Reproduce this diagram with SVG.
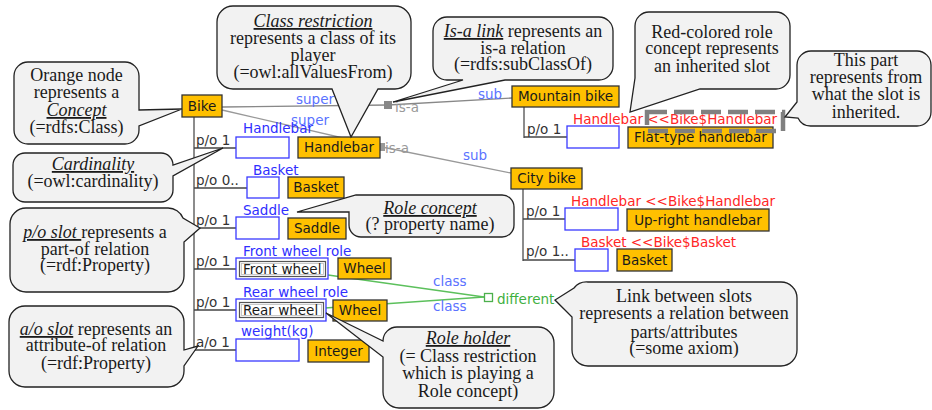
<svg xmlns="http://www.w3.org/2000/svg" width="932" height="410" viewBox="0 0 932 410">
<style>
.nd{fill:#FFC000;stroke:#333;stroke-width:1.3}
.nt{font-family:"DejaVu Sans",sans-serif;font-size:13.5px;fill:#1a1a1a;text-anchor:middle}
.slot{fill:#fff;stroke:#3a3aff;stroke-width:1.3}
.lb{font-family:"DejaVu Sans",sans-serif;font-size:13.5px}
.role{fill:#2f2fff}
.inh{fill:#ff2626}
.ss{fill:#5a72ff}
.card{fill:#333}
.isa{fill:#999}
.pl{stroke:#444;stroke-width:1.5;fill:none}
.vl{stroke:#666;stroke-width:1.5;fill:none}
.il{stroke:#999;stroke-width:1.3;fill:none}
.gl{stroke:#5cc05c;stroke-width:1.5;fill:none}
.co{fill:#f2f2f2;stroke:#222;stroke-width:1.3}
.ct{font-family:"Liberation Serif",serif;font-size:18px;fill:#1a1a1a;text-anchor:middle}
.em{font-style:italic;text-decoration:underline}
</style>

<g id="connectors">
  <line class="vl" x1="194" y1="117" x2="194" y2="351"/>
  <line class="pl" x1="194" y1="148" x2="236" y2="148"/>
  <line class="pl" x1="194" y1="188" x2="247" y2="188"/>
  <line class="pl" x1="194" y1="228" x2="236" y2="228"/>
  <line class="pl" x1="194" y1="269" x2="236" y2="269"/>
  <line class="pl" x1="194" y1="310" x2="236" y2="310"/>
  <line class="pl" x1="194" y1="350" x2="236" y2="350"/>
  <text class="lb card" x="196" y="145">p/o 1</text>
  <text class="lb card" x="196" y="185">p/o 0..</text>
  <text class="lb card" x="196" y="225">p/o 1</text>
  <text class="lb card" x="196" y="266">p/o 1</text>
  <text class="lb card" x="196" y="307">p/o 1</text>
  <text class="lb card" x="196" y="347">a/o 1</text>

  <line class="vl" x1="524" y1="107" x2="524" y2="138"/>
  <line class="pl" x1="524" y1="137" x2="567" y2="137"/>
  <text class="lb card" x="527" y="134">p/o 1</text>
  <line class="vl" x1="523" y1="189" x2="523" y2="261"/>
  <line class="pl" x1="523" y1="219" x2="565" y2="219"/>
  <line class="pl" x1="523" y1="260" x2="575" y2="260"/>
  <text class="lb card" x="526" y="216">p/o 1</text>
  <text class="lb card" x="526" y="256">p/o 1..</text>

  <line x1="222" y1="107" x2="388" y2="105" stroke="#888" stroke-width="1.4"/>
  <line x1="388" y1="105" x2="512" y2="98" stroke="#888" stroke-width="1.4"/>
  <rect x="384" y="101" width="8" height="8" fill="#888"/>
  <text class="lb ss" x="296" y="104">super</text>
  <text class="lb isa" x="395" y="112">is-a</text>
  <text class="lb ss" x="478" y="99">sub</text>

  <line class="il" x1="222" y1="110" x2="382" y2="147"/>
  <line class="il" x1="382" y1="147" x2="511" y2="173"/>
  <rect x="379" y="143" width="6" height="8" fill="#999"/>
  <text class="lb ss" x="291" y="125">super</text>
  <text class="lb isa" x="385" y="153">is-a</text>
  <text class="lb ss" x="463" y="160">sub</text>

  <line class="gl" x1="328" y1="275" x2="484" y2="297"/>
  <line class="gl" x1="325" y1="308" x2="484" y2="297"/>
  <rect x="484.5" y="293.5" width="8" height="8" fill="none" stroke="#4cb04c" stroke-width="1.3"/>
  <text class="lb ss" x="433" y="286">class</text>
  <text class="lb ss" x="433" y="311">class</text>
  <text class="lb" x="497" y="304" fill="#3fb03f">different</text>
</g>

<g id="bike"><rect class="nd" x="182" y="95" width="40" height="22"/><text class="nt" x="202" y="111">Bike</text></g>

<g id="slot-handlebar"><rect class="slot" x="236" y="137" width="53" height="21"/><text class="lb role" x="243" y="133">Handlebar</text></g>
<g id="handlebar"><rect class="nd" x="298" y="137" width="82" height="21"/><text class="nt" x="339" y="152">Handlebar</text></g>

<g id="slot-basket"><rect class="slot" x="247" y="177" width="32" height="21"/><text class="lb role" x="253" y="175">Basket</text></g>
<g id="basket"><rect class="nd" x="288" y="177" width="56" height="21"/><text class="nt" x="316" y="192">Basket</text></g>

<g id="slot-saddle"><rect class="slot" x="236" y="217" width="43" height="22"/><text class="lb role" x="243" y="215">Saddle</text></g>
<g id="saddle"><rect class="nd" x="288" y="218" width="58" height="21"/><text class="nt" x="317" y="233">Saddle</text></g>

<g id="slot-front"><rect class="slot" x="236" y="258" width="92" height="21"/><rect x="239.5" y="261.5" width="86" height="15" fill="#fff" stroke="#555" stroke-width="1.2"/><rect x="241.5" y="263.5" width="82" height="11" fill="none" stroke="#bbb" stroke-width="0.8"/><text class="lb" x="243" y="274" fill="#1a1a1a">Front wheel</text><text class="lb role" x="243" y="256">Front wheel role</text></g>
<g id="wheel1"><rect class="nd" x="338" y="258" width="53" height="21"/><text class="nt" x="364.5" y="273">Wheel</text></g>

<g id="slot-rear"><rect class="slot" x="236" y="299" width="90" height="22"/><rect x="239.5" y="302.5" width="84" height="15" fill="#fff" stroke="#555" stroke-width="1.2"/><rect x="241.5" y="304.5" width="80" height="11" fill="none" stroke="#bbb" stroke-width="0.8"/><text class="lb" x="243" y="315" fill="#1a1a1a">Rear wheel</text><text class="lb role" x="243" y="297">Rear wheel role</text></g>
<g id="wheel2"><rect class="nd" x="333" y="300" width="54" height="21"/><text class="nt" x="360" y="315">Wheel</text></g>

<g id="slot-weight"><rect class="slot" x="236" y="339" width="63" height="22"/><text class="lb role" x="241" y="336">weight(kg)</text></g>
<g id="integer"><rect class="nd" x="308" y="340" width="61" height="22"/><text class="nt" x="338.5" y="356">Integer</text></g>

<g id="mountain-bike"><rect class="nd" x="512" y="86" width="107" height="21"/><text class="nt" x="565.5" y="101">Mountain bike</text></g>
<g id="slot-mb-handlebar"><rect class="slot" x="567" y="126" width="52" height="22"/><text class="lb inh" x="573" y="124">Handlebar &lt;&lt;Bike$Handlebar</text></g>
<g id="flat-handlebar"><rect class="nd" x="628" y="127" width="145" height="21"/><text class="nt" x="700.5" y="142">Flat-type handlebar</text></g>

<g id="city-bike"><rect class="nd" x="511" y="168" width="71" height="21"/><text class="nt" x="546.5" y="183">City bike</text></g>
<g id="slot-cb-handlebar"><rect class="slot" x="565" y="208" width="53" height="22"/><text class="lb inh" x="571" y="206">Handlebar &lt;&lt;Bike$Handlebar</text></g>
<g id="upright-handlebar"><rect class="nd" x="627" y="209" width="142" height="22"/><text class="nt" x="698" y="225">Up-right handlebar</text></g>
<g id="slot-cb-basket"><rect class="slot" x="575" y="249" width="33" height="22"/><text class="lb inh" x="581" y="247">Basket &lt;&lt;Bike$Basket</text></g>
<g id="basket2"><rect class="nd" x="617" y="249" width="55" height="22"/><text class="nt" x="644.5" y="265">Basket</text></g>

<g id="inherited-mark"><rect x="647" y="112" width="136" height="19" fill="none" stroke="#808080" stroke-width="4.5" stroke-dasharray="20 7"/></g>

<g id="callout-concept">
  <path class="co" d="M28,62 H125 A14,14 0 0 1 139,76 V110 L182,109 L139,126 V130 A14,14 0 0 1 125,144 H28 A14,14 0 0 1 14,130 V76 A14,14 0 0 1 28,62 Z"/>
  <text class="ct" x="76.5" y="81">Orange node</text>
  <text class="ct" x="76.5" y="98">represents a</text>
  <text class="ct em" x="76.5" y="116">Concept</text>
  <text class="ct" x="76.5" y="133">(=rdfs:Class)</text>
</g>
<g id="callout-cardinality">
  <path class="co" d="M25,153 H161 A12,12 0 0 1 173,165 L223,148 L173,176 V190 A12,12 0 0 1 161,202 H25 A12,12 0 0 1 13,190 V165 A12,12 0 0 1 25,153 Z"/>
  <text class="ct em" x="93" y="170">Cardinality</text>
  <text class="ct" x="93" y="187">(=owl:cardinality)</text>
</g>
<g id="callout-po">
  <path class="co" d="M26,208 H168 A16,16 0 0 1 183,218 L200,228 L184,242 V276 A16,16 0 0 1 168,292 H26 A16,16 0 0 1 10,276 V224 A16,16 0 0 1 26,208 Z"/>
  <text class="ct" x="95" y="238"><tspan class="em">p/o slot </tspan> represents a</text>
  <text class="ct" x="95" y="254.5">part-of relation</text>
  <text class="ct" x="95" y="271">(=rdf:Property)</text>
</g>
<g id="callout-ao">
  <path class="co" d="M25,306 H168 A16,16 0 0 1 184,322 V350 L198,346 L184,366 V371 A16,16 0 0 1 168,387 H25 A16,16 0 0 1 9,371 V322 A16,16 0 0 1 25,306 Z"/>
  <text class="ct" x="96" y="335"><tspan class="em">a/o slot</tspan> represents an</text>
  <text class="ct" x="96" y="351">attribute-of relation</text>
  <text class="ct" x="96" y="368.5">(=rdf:Property)</text>
</g>
<g id="callout-class-restriction">
  <path class="co" d="M233,6 H395 A16,16 0 0 1 411,22 V73 A16,16 0 0 1 395,89 H378 L351,137 L332,89 H233 A16,16 0 0 1 217,73 V22 A16,16 0 0 1 233,6 Z"/>
  <text class="ct em" x="313" y="27">Class restriction</text>
  <text class="ct" x="313" y="44">represents a class of its</text>
  <text class="ct" x="313" y="61">player</text>
  <text class="ct" x="313" y="78">(=owl:allValuesFrom)</text>
</g>
<g id="callout-isa">
  <path class="co" d="M447,17 H599 A14,14 0 0 1 613,31 V66 A14,14 0 0 1 599,80 H505 L393,102 L463,80 H447 A14,14 0 0 1 433,66 V31 A14,14 0 0 1 447,17 Z"/>
  <text class="ct" x="523" y="37"><tspan class="em">Is-a link</tspan> represents an</text>
  <text class="ct" x="523" y="53.5">is-a relation</text>
  <text class="ct" x="523" y="70">(=rdfs:subClassOf)</text>
</g>
<g id="callout-red">
  <path class="co" d="M649,12 H776 A14,14 0 0 1 790,26 V75 A14,14 0 0 1 776,89 H700 L630,112 L635,78 V26 A14,14 0 0 1 649,12 Z"/>
  <text class="ct" x="712" y="37.5">Red-colored role</text>
  <text class="ct" x="712" y="54">concept represents</text>
  <text class="ct" x="712" y="71.5">an inherited  slot</text>
</g>
<g id="callout-this-part">
  <path class="co" d="M811,51 H917 A14,14 0 0 1 931,65 V112 A14,14 0 0 1 917,126 H811 A14,14 0 0 1 798,118 L785,117 L797,102 V65 A14,14 0 0 1 811,51 Z"/>
  <text class="ct" x="866" y="66">This part</text>
  <text class="ct" x="866" y="83">represents from</text>
  <text class="ct" x="866" y="100">what the slot is</text>
  <text class="ct" x="866" y="117.5">inherited.</text>
</g>
<g id="callout-role-concept">
  <path class="co" d="M362,195 H502 A12,12 0 0 1 514,207 V225 A12,12 0 0 1 502,237 H361 A12,12 0 0 1 349,225 V212 L297,212 L356,195 Z"/>
  <text class="ct em" x="430" y="214">Role concept</text>
  <text class="ct" x="430" y="230">(? property name)</text>
</g>
<g id="callout-role-holder">
  <path class="co" d="M397,327 H538 A16,16 0 0 1 554,343 V392 A16,16 0 0 1 538,408 H399 A16,16 0 0 1 383,392 V357 L326,313 L383,341 A14,14 0 0 1 397,327 Z"/>
  <text class="ct em" x="468" y="344">Role holder</text>
  <text class="ct" x="468" y="361.5">(= Class restriction</text>
  <text class="ct" x="468" y="379">which is playing a</text>
  <text class="ct" x="468" y="396.5">Role concept)</text>
</g>
<g id="callout-link">
  <path class="co" d="M588,282 H781 A16,16 0 0 1 797,298 V350 A16,16 0 0 1 781,366 H588 A16,16 0 0 1 572,350 V317 L555,300 L574,288 A16,16 0 0 1 588,282 Z"/>
  <text class="ct" x="684" y="302">Link between slots</text>
  <text class="ct" x="684" y="319">represents a relation  between</text>
  <text class="ct" x="684" y="337.5">parts/attributes</text>
  <text class="ct" x="684" y="354">(=some axiom)</text>
</g>
</svg>
